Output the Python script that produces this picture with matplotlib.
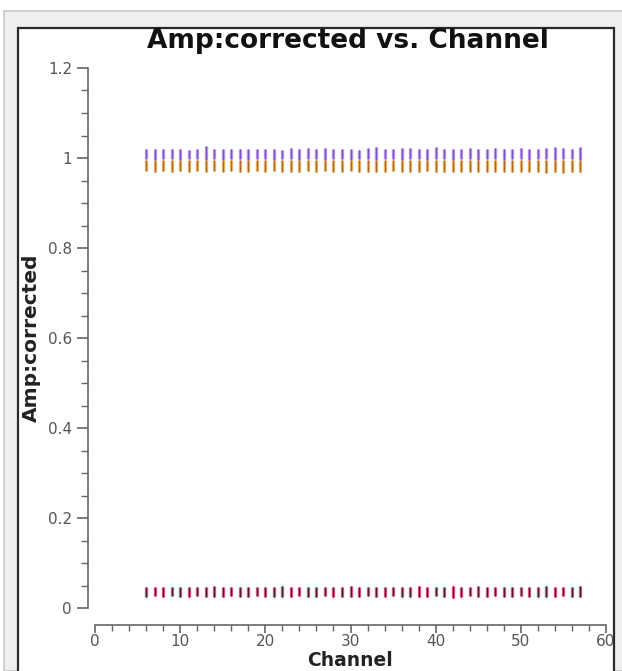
import matplotlib.pyplot as plt
import matplotlib.patches as mpatches
from matplotlib.ticker import MultipleLocator
import numpy as np

# per-channel amplitude ranges (min / max over all rows) for each correlation group
channels = np.arange(6, 58)

purple_top = [1.021, 1.020, 1.021, 1.019, 1.020, 1.018, 1.021, 1.026, 1.020, 1.021,
              1.019, 1.021, 1.020, 1.019, 1.021, 1.020, 1.018, 1.022, 1.021, 1.023,
              1.020, 1.022, 1.021, 1.019, 1.020, 1.018, 1.022, 1.024, 1.021, 1.019,
              1.022, 1.023, 1.021, 1.020, 1.024, 1.021, 1.019, 1.021, 1.022, 1.020,
              1.021, 1.023, 1.020, 1.021, 1.022, 1.020, 1.021, 1.023, 1.024, 1.022,
              1.019, 1.024]
purple_bot = [0.997, 0.996, 0.997, 0.997, 0.996, 0.997, 0.997, 0.995, 0.997, 0.996,
              0.997, 0.997, 0.996, 0.997, 0.997, 0.996, 0.997, 0.997, 0.996, 0.997,
              0.997, 0.996, 0.997, 0.997, 0.996, 0.997, 0.997, 0.996, 0.997, 0.997,
              0.996, 0.997, 0.997, 0.996, 0.997, 0.997, 0.996, 0.997, 0.997, 0.996,
              0.997, 0.997, 0.996, 0.997, 0.997, 0.996, 0.997, 0.997, 0.996, 0.997,
              0.997, 0.996]
orange_top = [0.995] * 52
orange_bot = [0.971, 0.970, 0.971, 0.970, 0.971, 0.970, 0.971, 0.969, 0.971, 0.970,
              0.971, 0.970, 0.970, 0.971, 0.970, 0.971, 0.970, 0.969, 0.970, 0.971,
              0.970, 0.971, 0.969, 0.970, 0.971, 0.970, 0.970, 0.969, 0.970, 0.971,
              0.970, 0.969, 0.970, 0.971, 0.970, 0.968, 0.970, 0.969, 0.970, 0.970,
              0.969, 0.970, 0.968, 0.970, 0.969, 0.970, 0.968, 0.966, 0.970, 0.967,
              0.970, 0.968]
low_top = [0.047, 0.046, 0.047, 0.046, 0.047, 0.046, 0.047, 0.046, 0.048, 0.047,
           0.046, 0.047, 0.046, 0.047, 0.047, 0.046, 0.048, 0.047, 0.046, 0.047,
           0.046, 0.047, 0.046, 0.047, 0.048, 0.047, 0.046, 0.047, 0.046, 0.047,
           0.047, 0.046, 0.048, 0.047, 0.046, 0.047, 0.050, 0.047, 0.046, 0.048,
           0.047, 0.046, 0.047, 0.047, 0.046, 0.047, 0.046, 0.048, 0.047, 0.046,
           0.047, 0.048]
low_bot = [0.025, 0.026, 0.025, 0.026, 0.025, 0.025, 0.026, 0.025, 0.024, 0.025,
           0.026, 0.025, 0.025, 0.026, 0.025, 0.025, 0.024, 0.025, 0.026, 0.025,
           0.025, 0.026, 0.025, 0.025, 0.024, 0.025, 0.026, 0.025, 0.025, 0.026,
           0.025, 0.025, 0.024, 0.025, 0.026, 0.025, 0.022, 0.025, 0.026, 0.024,
           0.025, 0.026, 0.025, 0.025, 0.026, 0.025, 0.025, 0.024, 0.025, 0.026,
           0.025, 0.024]

W, H = 622, 671
fig = plt.figure(figsize=(W / 100, H / 100), dpi=100)
fig.patch.set_facecolor('white')

# window chrome: light outer panel and dark inner plot frame
fig.patches.append(mpatches.Rectangle((4 / W, 0), 1, 1 - 11 / H, transform=fig.transFigure,
                                      facecolor='#efefef', edgecolor='#c8c8c8', lw=1.2, zorder=-2))
fig.patches.append(mpatches.Rectangle((18 / W, -0.01), 596 / W, 1 - 28 / H + 0.01,
                                      transform=fig.transFigure, facecolor='white',
                                      edgecolor='#2a2a2a', lw=1.6, zorder=-1))

ax = fig.add_axes([95 / W, 1 - 608 / H, 511 / W, 540 / H])
ax.set_facecolor('none')
ax.set_zorder(2)

# purple group
ax.vlines(channels, purple_bot, purple_top, color='#bb99f2', lw=2.4)
ax.vlines(channels, purple_bot, purple_top, color='#7d55c4', lw=0.9)
# orange group
ax.vlines(channels, orange_bot, orange_top, color='#f2b868', lw=2.4)
ax.vlines(channels, orange_bot, orange_top, color='#a86a30', lw=0.9)
# low-amplitude group
ax.vlines(channels, low_bot, low_top, color='#f0609a', lw=2.4)
ax.vlines(channels, low_bot, low_top, color='#4a2030', lw=1.0)

ax.set_xlim(0, 60)
ax.set_ylim(0, 1.2)
ax.xaxis.set_major_locator(MultipleLocator(10))
ax.xaxis.set_minor_locator(MultipleLocator(2))
ax.yaxis.set_minor_locator(MultipleLocator(0.05))
ax.set_yticks([0, 0.2, 0.4, 0.6, 0.8, 1.0, 1.2])
ax.set_yticklabels(['0', '0.2', '0.4', '0.6', '0.8', '1', '1.2'])

for s in ('top', 'right'):
    ax.spines[s].set_visible(False)
ax.spines['left'].set_position(('outward', 5))
ax.spines['bottom'].set_position(('outward', 12))
for s in ('left', 'bottom'):
    ax.spines[s].set_color('#666666')
    ax.spines[s].set_linewidth(1.2)

ax.tick_params(which='major', direction='out', length=8, width=1.2, color='#666666',
               labelcolor='#555555', labelsize=11)
ax.tick_params(axis='x', which='major', length=6, pad=1)
ax.tick_params(which='minor', direction='out', length=5, width=1.0, color='#666666')
ax.tick_params(axis='x', which='minor', length=4)

ax.set_ylabel('Amp:corrected', fontsize=14.5, fontweight='bold', color='#222222', labelpad=5)
fig.text(350 / W, 1 / H, 'Channel', ha='center', va='bottom',
         fontsize=13.5, fontweight='bold', color='#222222')
fig.text(348 / W, 1 - 41 / H, 'Amp:corrected vs. Channel', ha='center', va='center',
         fontsize=19, fontweight='bold', color='#111111')

fig.savefig('out.png', dpi=100)
